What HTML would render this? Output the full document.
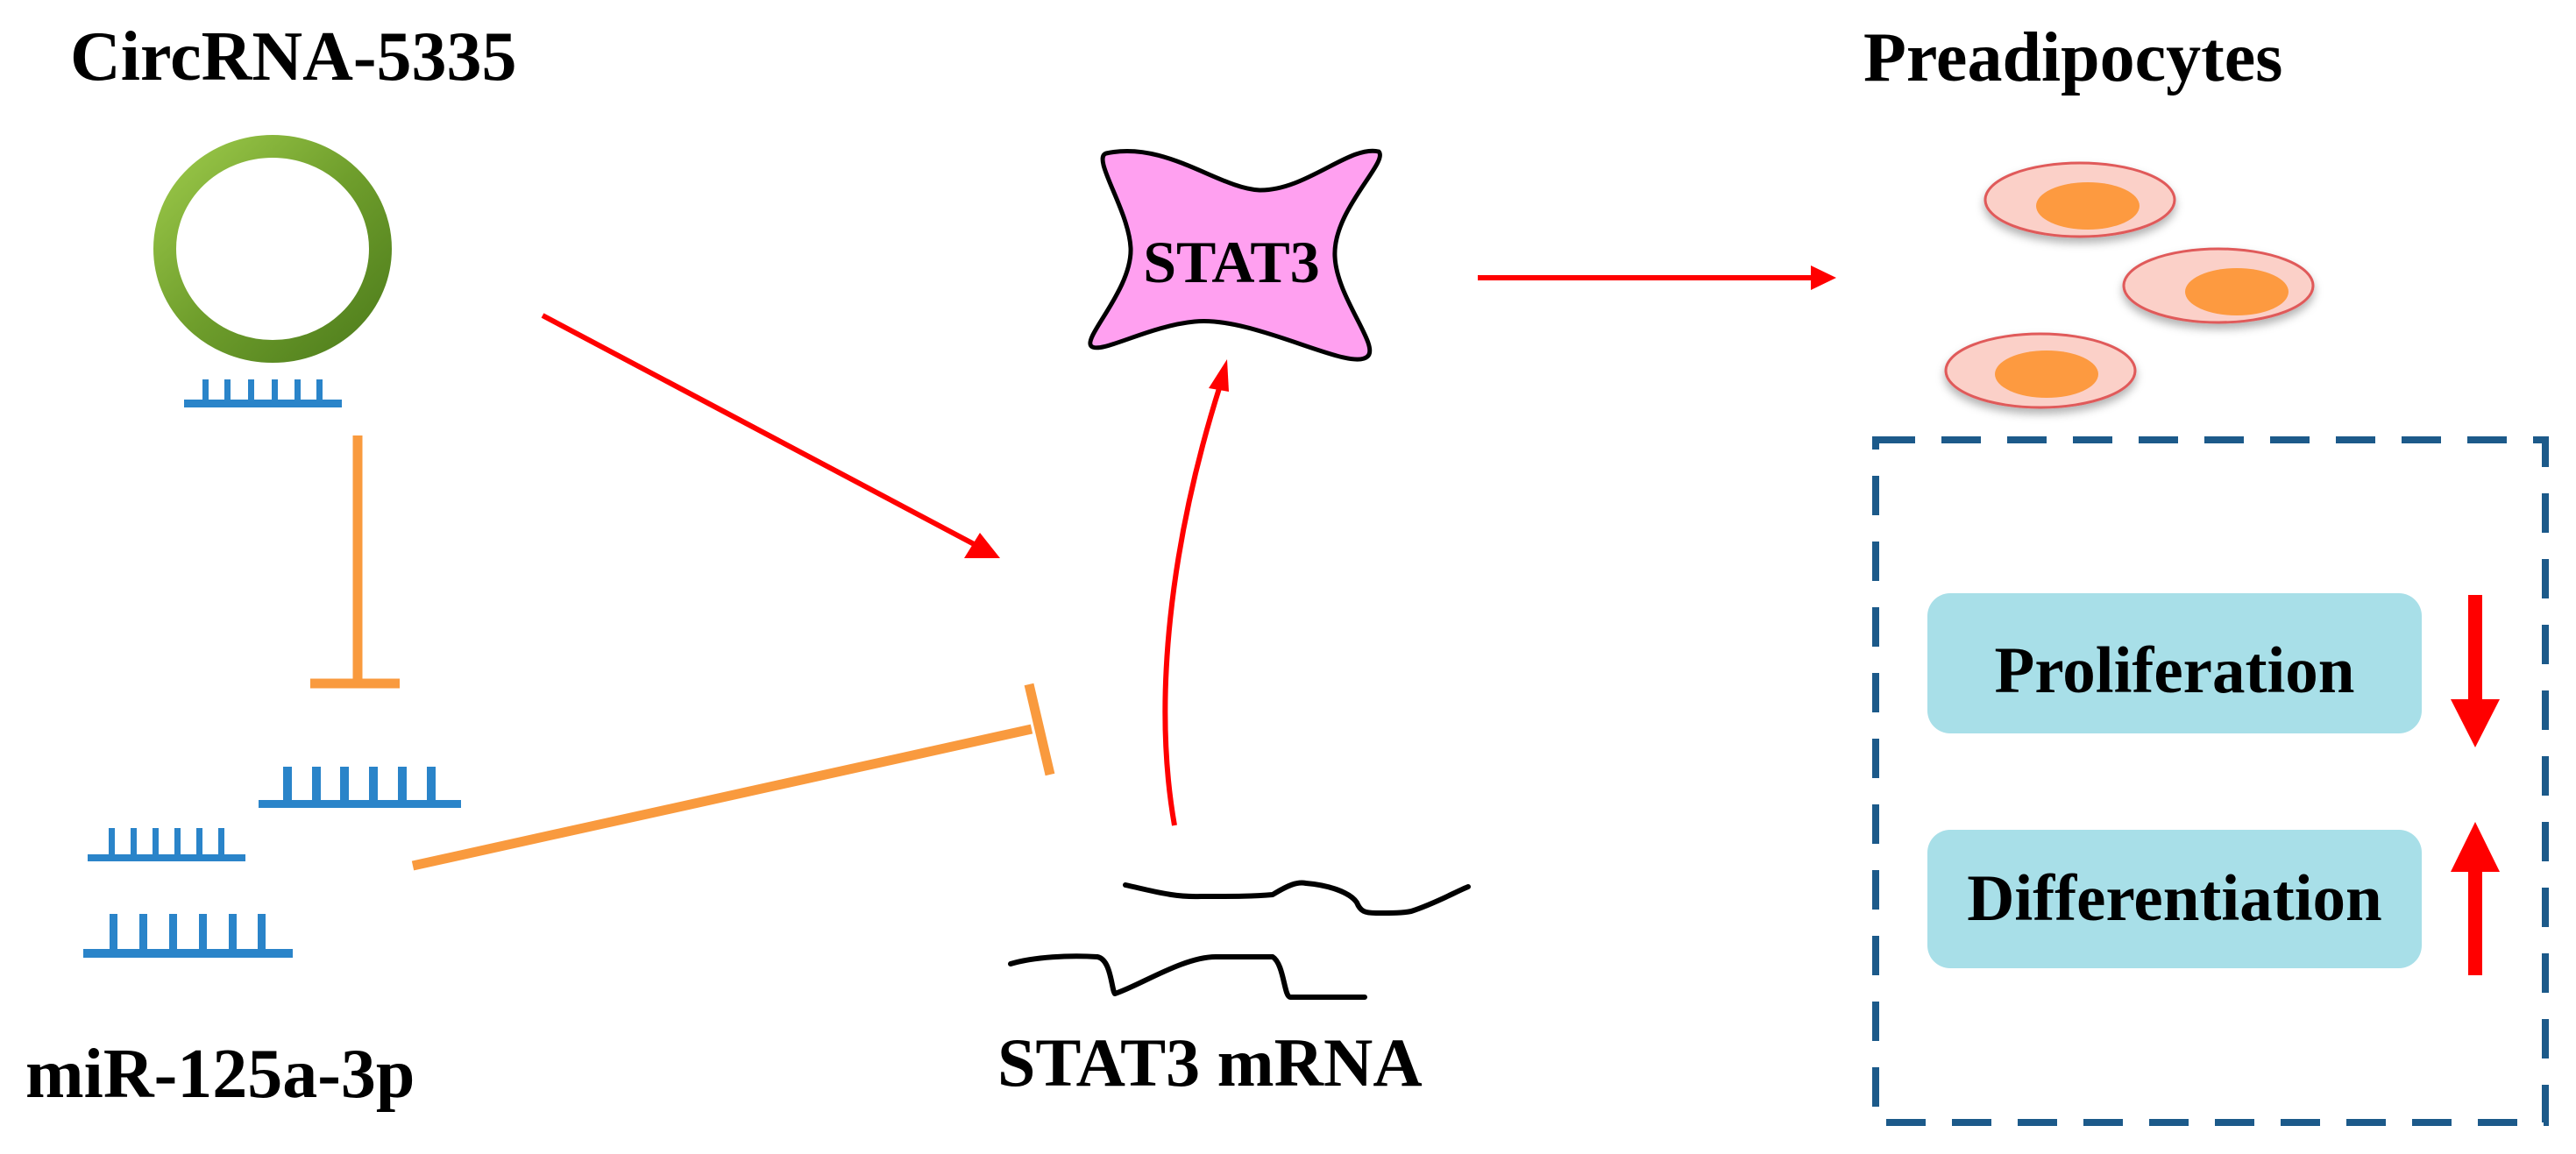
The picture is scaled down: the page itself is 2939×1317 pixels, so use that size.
<!DOCTYPE html>
<html><head><meta charset="utf-8"><style>
html,body{margin:0;padding:0;background:#fff;}
svg{display:block;}
text{font-family:"Liberation Serif",serif;font-weight:bold;fill:#000;}
</style></head><body>
<svg width="2939" height="1317" viewBox="0 0 2939 1317" xmlns="http://www.w3.org/2000/svg">
<defs>
<marker id="ah" markerWidth="10" markerHeight="10" refX="7" refY="5" orient="auto" markerUnits="userSpaceOnUse" viewBox="0 0 10 10" >
</marker>
<linearGradient id="gr" x1="0" y1="0" x2="1" y2="1">
<stop offset="0" stop-color="#9cc94a"/><stop offset="0.5" stop-color="#6f9e2c"/><stop offset="1" stop-color="#4e7d1c"/>
</linearGradient>
<filter id="sh" x="-20%" y="-20%" width="140%" height="160%"><feDropShadow dx="0" dy="6" stdDeviation="5" flood-color="#000" flood-opacity="0.3"/></filter>
</defs>

<text x="80" y="91" font-size="80">CircRNA-5335</text>
<text x="2126" y="92" font-size="80">Preadipocytes</text>
<text x="29" y="1252" font-size="80">miR-125a-3p</text>
<text x="1138" y="1239" font-size="78">STAT3 mRNA</text>

<!-- ring -->
<ellipse cx="311" cy="284" rx="123" ry="117" fill="none" stroke="url(#gr)" stroke-width="26"/>

<!-- combs -->
<g fill="#2a84c9">
<rect x="210" y="456" width="180" height="9"/>
<rect x="231" y="433" width="7" height="25"/><rect x="256" y="433" width="7" height="25"/><rect x="283" y="433" width="7" height="25"/><rect x="310" y="433" width="7" height="25"/><rect x="336" y="433" width="7" height="25"/><rect x="361" y="433" width="7" height="25"/>

<rect x="295" y="913" width="231" height="9"/>
<rect x="323" y="875" width="10" height="40"/><rect x="356" y="875" width="10" height="40"/><rect x="388" y="875" width="10" height="40"/><rect x="421" y="875" width="10" height="40"/><rect x="454" y="875" width="10" height="40"/><rect x="487" y="875" width="10" height="40"/>

<rect x="100" y="975" width="180" height="8"/>
<rect x="124" y="945" width="7" height="32"/><rect x="149" y="945" width="7" height="32"/><rect x="174" y="945" width="7" height="32"/><rect x="199" y="945" width="7" height="32"/><rect x="224" y="945" width="7" height="32"/><rect x="249" y="945" width="7" height="32"/>

<rect x="95" y="1083" width="239" height="10"/>
<rect x="125" y="1043" width="9" height="42"/><rect x="159" y="1043" width="9" height="42"/><rect x="193" y="1043" width="9" height="42"/><rect x="227" y="1043" width="9" height="42"/><rect x="261" y="1043" width="9" height="42"/><rect x="294" y="1043" width="9" height="42"/>
</g>

<!-- orange inhibitions -->
<g stroke="#f99a3e" stroke-width="11" fill="none">
<line x1="408" y1="497" x2="408" y2="780"/>
<line x1="354" y1="780" x2="456" y2="780"/>
<line x1="471" y1="988" x2="1177" y2="832"/>
<line x1="1174" y1="781" x2="1198" y2="884"/>
</g>

<!-- red arrows -->
<g stroke="#ff0000" stroke-width="6" fill="none">
<line x1="619" y1="360" x2="1115" y2="623"/>
<line x1="1686" y1="317" x2="2070" y2="317"/>
<path d="M1340 942 C1315 800 1335 620 1392 440"/>
</g>
<g fill="#ff0000">
<polygon points="1141,637 1100,637 1118,608"/>
<polygon points="2095,317 2066,303 2066,331"/>
<polygon points="1400,410 1379,443 1402,447"/>
</g>

<!-- STAT3 shape -->
<path d="M1262,175 C1330,160 1390,215 1437,217 C1490,218 1540,165 1573,173 C1585,185 1520,240 1523,293 C1525,340 1575,395 1560,407 C1540,425 1430,360 1363,367 C1310,372 1255,405 1245,395 C1235,385 1292,330 1290,283 C1288,240 1245,180 1262,175 Z" fill="#ffa0f0" stroke="#000" stroke-width="5"/>
<text x="1405" y="322" font-size="68" text-anchor="middle">STAT3</text>

<!-- mRNA lines -->
<g stroke="#000" stroke-width="6" fill="none" stroke-linecap="round" stroke-linejoin="round">
<path d="M1284,1010 C1320,1018 1340,1024 1370,1023 C1410,1023 1430,1023 1452,1021 C1470,1010 1480,1006 1490,1008 C1515,1010 1540,1018 1548,1030 C1552,1040 1557,1042 1570,1042 C1590,1042 1600,1042 1610,1040 C1640,1030 1660,1018 1675,1012"/>
<path d="M1153,1100 C1180,1092 1220,1090 1252,1092 C1268,1095 1268,1130 1272,1134 C1300,1125 1350,1092 1387,1092 C1420,1092 1440,1092 1452,1092 C1465,1100 1465,1138 1472,1138 C1500,1138 1530,1138 1557,1138"/>
</g>

<!-- cells -->
<g filter="url(#sh)">
<ellipse cx="2373" cy="228" rx="108" ry="42" fill="#fbd0c8" stroke="#e05a5a" stroke-width="3"/>
<ellipse cx="2531" cy="326" rx="108" ry="42" fill="#fbd0c8" stroke="#e05a5a" stroke-width="3"/>
<ellipse cx="2328" cy="423" rx="108" ry="42" fill="#fbd0c8" stroke="#e05a5a" stroke-width="3"/>
</g>
<g fill="#fd9a40">
<ellipse cx="2382" cy="235" rx="59" ry="27"/>
<ellipse cx="2552" cy="333" rx="59" ry="27"/>
<ellipse cx="2335" cy="427" rx="59" ry="27"/>
</g>

<!-- dashed box -->
<rect x="2140" y="502" width="764" height="779" fill="none" stroke="#1c5a8a" stroke-width="8" stroke-dasharray="45,30"/>

<rect x="2199" y="677" width="564" height="160" rx="26" fill="#a8dfe8"/>
<rect x="2199" y="947" width="564" height="158" rx="26" fill="#a8dfe8"/>
<text x="2481" y="790" font-size="75" text-anchor="middle">Proliferation</text>
<text x="2481" y="1050" font-size="75" text-anchor="middle">Differentiation</text>

<g fill="#ff0000">
<rect x="2816" y="679" width="16" height="125"/>
<polygon points="2796,798 2852,798 2824,853"/>
<rect x="2816" y="990" width="16" height="123"/>
<polygon points="2796,995 2852,995 2824,938"/>
</g>
</svg>
</body></html>
